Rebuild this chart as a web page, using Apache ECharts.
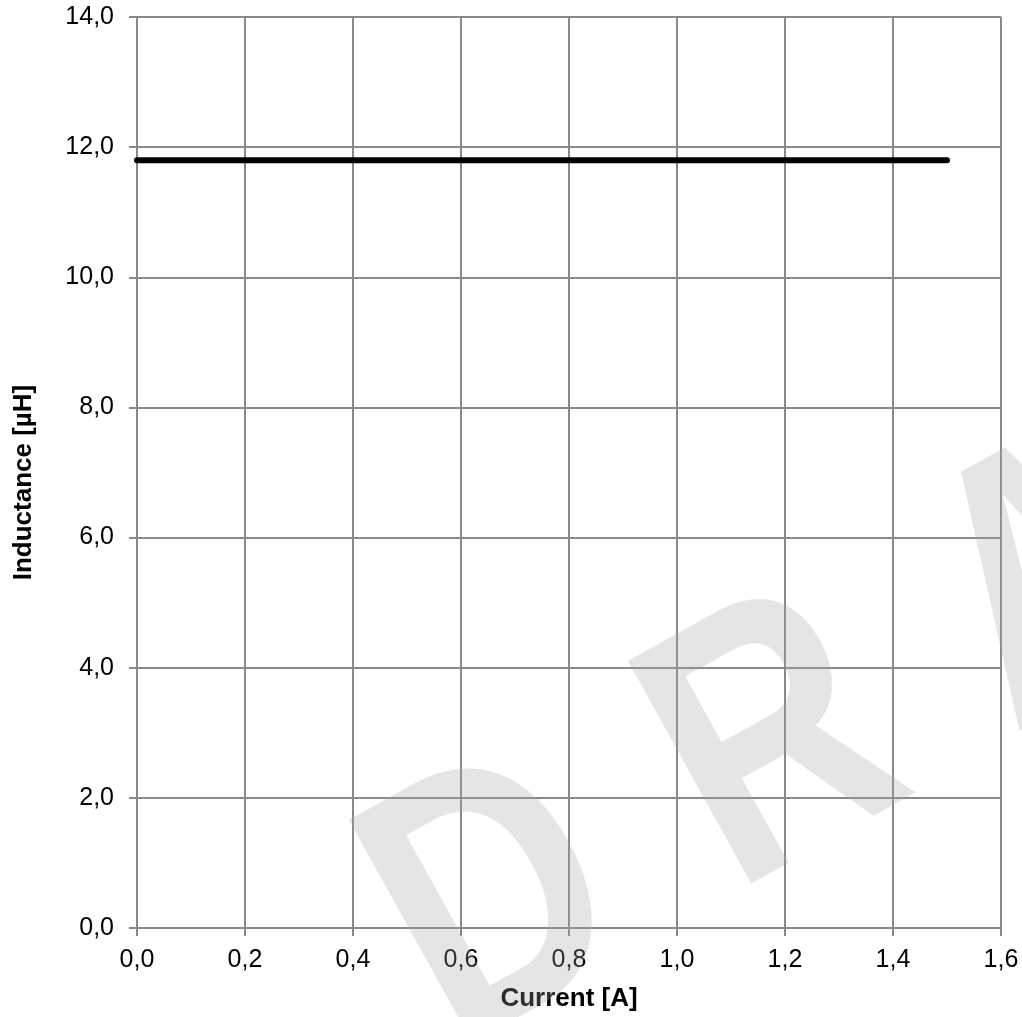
<!DOCTYPE html>
<html>
<head>
<meta charset="utf-8">
<style>
  html, body { margin: 0; padding: 0; background: #fff; }
  #chart { width: 1022px; height: 1017px; }
</style>
<script src="https://cdn.jsdelivr.net/npm/echarts@6/dist/echarts.min.js"></script>
</head>
<body>
<div id="chart"></div>
<script>
// Data
const currentA = [0.0, 0.25, 0.5, 0.75, 1.0, 1.25, 1.5];
const inductanceUH = [11.8, 11.8, 11.8, 11.8, 11.8, 11.8, 11.8];
const xTicks = { min: 0, max: 1.6, interval: 0.2 };
const yTicks = { min: 0, max: 14, interval: 2 };
const watermarkLetters = ['D', 'R', 'A', 'F', 'T'];

const chart = echarts.init(document.getElementById('chart'), null, { renderer: 'canvas' });
const fmt = v => v.toFixed(1).replace('.', ',');
const gridColor = '#898989';
const FONT = '"Liberation Sans", Arial, Helvetica, sans-serif';

// watermark letters placed along a rotated baseline
const ang = 29 * Math.PI / 180;
const stepX = 279, stepY = -159;
const dCenter = [499, 911];
const wm = watermarkLetters.map((ch, i) => ({
  type: 'text',
  x: dCenter[0] + i * stepX,
  y: dCenter[1] + i * stepY,
  rotation: ang,
  scaleX: 0.8,
  z: 100,
  silent: true,
  style: {
    text: ch,
    x: 0, y: 0,
    align: 'center',
    verticalAlign: 'middle',
    font: 'bold 370px ' + FONT,
    fill: 'rgba(160,160,160,0.28)'
  }
}));

const option = {
  animation: false,
  backgroundColor: '#ffffff',
  grid: { left: 137, right: 21, top: 17, bottom: 89, containLabel: false },
  xAxis: {
    type: 'value',
    min: xTicks.min, max: xTicks.max, interval: xTicks.interval,
    name: 'Current [A]',
    nameLocation: 'middle',
    nameGap: 58,
    nameTextStyle: { fontFamily: FONT, fontSize: 26, fontWeight: 'bold', color: '#000' },
    axisLine: { show: true, lineStyle: { color: gridColor, width: 2 } },
    axisTick: { show: true, length: 8, lineStyle: { color: gridColor, width: 2 } },
    axisLabel: { margin: 20, fontFamily: FONT, fontSize: 25, color: '#000', formatter: fmt },
    splitLine: { show: true, lineStyle: { color: gridColor, width: 2 } }
  },
  yAxis: {
    type: 'value',
    min: yTicks.min, max: yTicks.max, interval: yTicks.interval,
    name: 'Inductance [µH]',
    nameLocation: 'middle',
    nameGap: 100,
    nameRotate: 90,
    nameTextStyle: { fontFamily: FONT, fontSize: 26, fontWeight: 'bold', color: '#000', padding: [0, 20, 0, 0] },
    axisLine: { show: true, lineStyle: { color: gridColor, width: 2 } },
    axisTick: { show: true, length: 8, lineStyle: { color: gridColor, width: 2 } },
    axisLabel: { margin: 23, fontFamily: FONT, fontSize: 25, color: '#000', formatter: fmt },
    splitLine: { show: true, lineStyle: { color: gridColor, width: 2 } }
  },
  series: [{
    type: 'line',
    data: currentA.map((x, i) => [x, inductanceUH[i]]),
    showSymbol: false,
    symbol: 'none',
    lineStyle: { color: '#000', width: 6, cap: 'round' },
    z: 5
  }],
  graphic: wm
};
chart.setOption(option);
</script>
</body>
</html>
